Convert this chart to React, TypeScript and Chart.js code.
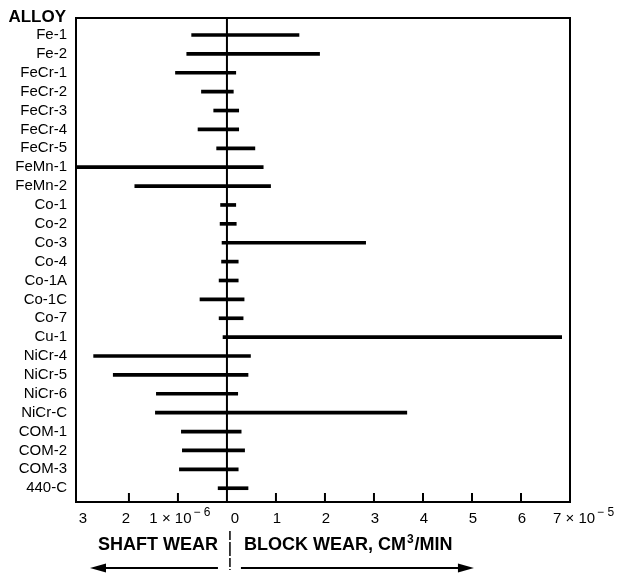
import React, { useEffect, useRef } from "react";
import { Chart, registerables } from "chart.js";

Chart.register(...registerables);

// Alloy names, top to bottom
const ALLOYS = [
  "Fe-1", "Fe-2", "FeCr-1", "FeCr-2", "FeCr-3", "FeCr-4", "FeCr-5",
  "FeMn-1", "FeMn-2", "Co-1", "Co-2", "Co-3", "Co-4", "Co-1A", "Co-1C",
  "Co-7", "Cu-1", "NiCr-4", "NiCr-5", "NiCr-6", "NiCr-C", "COM-1",
  "COM-2", "COM-3", "440-C",
];

// Shaft wear, units of 1e-6 cm3/min (drawn to the left of zero)
const SHAFT_WEAR = [
  0.72, 0.82, 1.05, 0.52, 0.27, 0.59, 0.21, 3.2, 1.88, 0.13, 0.14, 0.1,
  0.11, 0.16, 0.55, 0.16, 0.08, 2.72, 2.32, 1.44, 1.46, 0.93, 0.91, 0.97,
  0.18,
];

// Block wear, units of 1e-5 cm3/min (drawn to the right of zero)
const BLOCK_WEAR = [
  1.47, 1.89, 0.18, 0.13, 0.24, 0.24, 0.57, 0.74, 0.89, 0.18, 0.19, 2.83,
  0.23, 0.23, 0.35, 0.33, 6.83, 0.48, 0.43, 0.22, 3.67, 0.29, 0.36, 0.23,
  0.43,
];

// Bottom axis tick labels
const SHAFT_TICKS = [3, 2, 1];
const BLOCK_TICKS = [1, 2, 3, 4, 5, 6, 7];
const SHAFT_EXP = "\u2212 6";
const BLOCK_EXP = "\u2212 5";

const FONT = "'Liberation Sans', Arial, Helvetica, sans-serif";

const decorations = {
  id: "decorations",
  afterDatasetsDraw(chart: any) {
    const { ctx, chartArea } = chart;
    const xs = chart.scales.x;
    const { left, right, top, bottom } = chartArea;
    const x0 = xs.getPixelForValue(0);
    ctx.save();
    ctx.strokeStyle = "#000";
    ctx.fillStyle = "#000";

    // frame
    ctx.lineWidth = 2;
    ctx.strokeRect(left, top, right - left, bottom - top);

    // zero line
    ctx.beginPath();
    ctx.moveTo(x0, top);
    ctx.lineTo(x0, bottom);
    ctx.stroke();

    // inner tick marks
    const tickVals = [
      ...SHAFT_TICKS.map((v) => -v),
      ...BLOCK_TICKS.map((v) => v),
    ].filter((v) => v > xs.min + 0.2 && v < xs.max - 0.2);
    ctx.lineWidth = 2;
    for (const v of tickVals) {
      const px = xs.getPixelForValue(v);
      ctx.beginPath();
      ctx.moveTo(px, bottom);
      ctx.lineTo(px, bottom - 9);
      ctx.stroke();
    }

    // tick labels
    const ly = bottom + 17;
    ctx.textBaseline = "middle";
    ctx.font = `15px ${FONT}`;
    const drawExpLabel = (
      base: string,
      exp: string,
      anchorX: number,
      align: "center" | "left"
    ) => {
      ctx.font = `15px ${FONT}`;
      const wb = ctx.measureText(base).width;
      ctx.font = `12px ${FONT}`;
      const we = ctx.measureText(exp).width;
      const total = wb + 2 + we;
      const sx = align === "center" ? anchorX - total / 2 : anchorX;
      ctx.textAlign = "left";
      ctx.font = `15px ${FONT}`;
      ctx.fillText(base, sx, ly);
      ctx.font = `12px ${FONT}`;
      ctx.fillText(exp, sx + wb + 2, ly - 6);
    };
    for (const v of SHAFT_TICKS) {
      const px = xs.getPixelForValue(-v);
      if (v === 1) {
        drawExpLabel("1 \u00d7 10", SHAFT_EXP, px + 2, "center");
      } else {
        ctx.textAlign = "center";
        ctx.font = `15px ${FONT}`;
        ctx.fillText(String(v), v === 3 ? px + 3 : px - 3, ly);
      }
    }
    ctx.textAlign = "center";
    ctx.font = `15px ${FONT}`;
    ctx.fillText("0", x0 + 8, ly);
    for (const v of BLOCK_TICKS) {
      const px = xs.getPixelForValue(v);
      if (v === 7) {
        drawExpLabel("7 \u00d7 10", BLOCK_EXP, px - 17, "left");
      } else {
        ctx.textAlign = "center";
        ctx.font = `15px ${FONT}`;
        ctx.fillText(String(v), px + 1, ly);
      }
    }

    // axis titles
    const ty = bottom + 43;
    ctx.font = `bold 18px ${FONT}`;
    ctx.textAlign = "right";
    ctx.fillText("SHAFT WEAR", x0 - 9, ty);
    ctx.textAlign = "left";
    const t1 = "BLOCK WEAR, CM";
    ctx.fillText(t1, x0 + 17, ty);
    const w1 = ctx.measureText(t1).width;
    ctx.font = `bold 12px ${FONT}`;
    ctx.fillText("3", x0 + 17 + w1 + 1, ty - 5);
    const w2 = ctx.measureText("3").width;
    ctx.font = `bold 18px ${FONT}`;
    ctx.fillText("/MIN", x0 + 17 + w1 + w2 + 2, ty);

    // divider between titles
    ctx.lineWidth = 1.5;
    ctx.setLineDash([9, 2, 14, 2]);
    ctx.beginPath();
    ctx.moveTo(x0 + 3, bottom + 29);
    ctx.lineTo(x0 + 3, bottom + 68);
    ctx.stroke();
    ctx.setLineDash([]);

    // direction arrows
    const ay = bottom + 66;
    const arrow = (from: number, to: number) => {
      const dir = Math.sign(to - from);
      ctx.lineWidth = 2;
      ctx.beginPath();
      ctx.moveTo(from, ay);
      ctx.lineTo(to - dir * 12, ay);
      ctx.stroke();
      ctx.beginPath();
      ctx.moveTo(to, ay);
      ctx.lineTo(to - dir * 16, ay - 4.5);
      ctx.lineTo(to - dir * 16, ay + 4.5);
      ctx.closePath();
      ctx.fill();
    };
    arrow(x0 - 9, left + 14);
    arrow(x0 + 14, x0 + 247);

    // column heading
    ctx.font = `bold 17px ${FONT}`;
    ctx.textAlign = "right";
    ctx.fillText("ALLOY", left - 10, top - 1);

    ctx.restore();
  },
};

export default function App() {
  const canvasRef = useRef<HTMLCanvasElement | null>(null);

  useEffect(() => {
    if (!canvasRef.current) return;
    const data = ALLOYS.map((_, i) => ({
      y: i,
      x: [-SHAFT_WEAR[i], BLOCK_WEAR[i]],
    }));
    const chart = new Chart(canvasRef.current, {
      type: "bar",
      data: {
        datasets: [
          {
            data: data as any,
            backgroundColor: "#000",
            borderWidth: 0,
            borderSkipped: false,
            barThickness: 3,
          },
        ],
      },
      options: {
        indexAxis: "y",
        animation: false,
        responsive: true,
        maintainAspectRatio: false,
        layout: { padding: { top: 16, right: 50, bottom: 73, left: 0 } },
        plugins: {
          legend: { display: false },
          tooltip: { enabled: false },
        },
        scales: {
          x: {
            type: "linear",
            min: -3.08,
            max: 7,
            display: false,
          },
          y: {
            type: "linear",
            reverse: true,
            offset: false,
            min: -0.9,
            max: 24.73,
            grid: { display: false, drawTicks: false, offset: false },
            border: { display: false },
            ticks: {
              stepSize: 1,
              autoSkip: false,
              includeBounds: false,
              padding: 9,
              color: "#000",
              font: { family: FONT, size: 15 },
              callback: (v: any) =>
                Number.isInteger(v) && ALLOYS[v] !== undefined ? ALLOYS[v] : "",
            },
            afterFit: (scale: any) => {
              scale.width = 76;
            },
          },
        },
      },
      plugins: [decorations],
    });
    return () => chart.destroy();
  }, []);

  return (
    <div
      style={{
        position: "fixed",
        left: 0,
        top: 0,
        width: 620,
        height: 575,
        background: "#fff",
      }}
    >
      <canvas ref={canvasRef} />
    </div>
  );
}
